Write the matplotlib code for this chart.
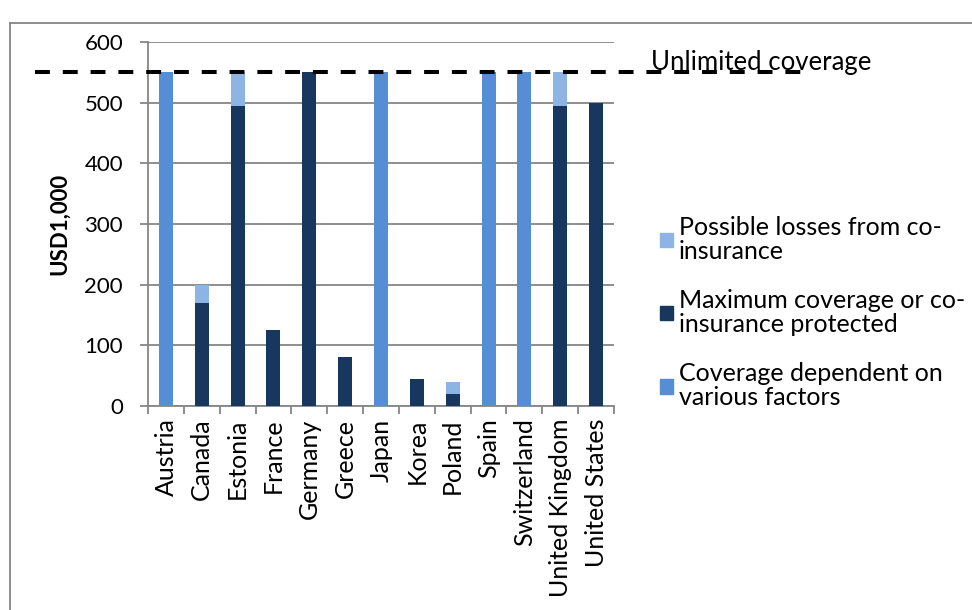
import numpy as np
import matplotlib as mpl
mpl.use('Agg')
import matplotlib.pyplot as plt
from matplotlib.transforms import blended_transform_factory, offset_copy
from matplotlib.lines import Line2D
from matplotlib.patches import Patch


countries = ['Austria', 'Canada', 'Estonia', 'France', 'Germany', 'Greece',
             'Japan', 'Korea', 'Poland', 'Spain', 'Switzerland',
             'United Kingdom', 'United States']
# USD 1,000
max_coverage = [0, 170, 495, 125, 550, 81, 0, 45, 20, 0, 0, 495, 500]
coinsurance_loss = [0, 30, 55, 0, 0, 0, 0, 0, 20, 0, 0, 55, 0]
dependent = [550, 0, 0, 0, 0, 0, 550, 0, 0, 550, 550, 0, 0]
unlimited = 550

c_light = '#8DB4E2'
c_dark = '#17375E'
c_mid = '#558ED5'
grey = '#868686'

plt.rcParams['font.family'] = ['Lato', 'DejaVu Sans']

fig = plt.figure(figsize=(9.72, 6.10), dpi=100)
ax = fig.add_axes([148/972, 1 - 406/610, 466/972, 364/610])

x = np.arange(len(countries))
w = 0.39
ax.bar(x, dependent, w, color=c_mid, zorder=3)
ax.bar(x, max_coverage, w, color=c_dark, zorder=3)
ax.bar(x, coinsurance_loss, w, bottom=max_coverage, color=c_light, zorder=3)

ax.set_xlim(-0.5, len(countries) - 0.5)
ax.set_ylim(0, 600)
ax.set_yticks(np.arange(0, 601, 100))
ax.yaxis.grid(True, color=grey, linewidth=1.3, zorder=0)
ax.set_axisbelow(True)
for s in ['top', 'right']:
    ax.spines[s].set_visible(False)
for s in ['left', 'bottom']:
    ax.spines[s].set_color(grey)
    ax.spines[s].set_linewidth(1.3)

ax.set_xticks(x)
ax.set_xticklabels(countries, rotation=90, fontsize=18)
ax.tick_params(axis='x', length=0, pad=9)
ax.set_xticks(np.arange(-0.5, len(countries), 1), minor=True)
ax.tick_params(axis='x', which='minor', length=6, width=1.3, color=grey)
ax.tick_params(axis='y', labelsize=16, length=6, width=1.3, color=grey, pad=12)
ax.set_ylabel('USD1,000', fontsize=16, fontweight='bold', labelpad=10)

# unlimited coverage line, spans past the plot area
trans = blended_transform_factory(fig.transFigure, ax.transData)
ln = Line2D([35/972, 805/972], [unlimited, unlimited], transform=trans,
            color='black', linewidth=2.9, clip_on=False, zorder=5)
ln.set_dashes((3.7, 3.2))
ln.set_dash_capstyle('butt')
fig.add_artist(ln)
fig.text(651/972, unlimited, 'Unlimited coverage',
         transform=offset_copy(trans, fig=fig, y=2, units='points'),
         fontsize=18.5, va='baseline', ha='left', zorder=6)

handles = [Patch(color=c_light), Patch(color=c_dark), Patch(color=c_mid)]
labels = ['Possible losses from co-\ninsurance',
          'Maximum coverage or co-\ninsurance protected',
          'Coverage dependent on\nvarious factors']
leg = ax.legend(handles, labels, loc='upper left',
                bbox_to_anchor=(650/972, 1 - 206/610),
                bbox_transform=fig.transFigure,
                frameon=False, fontsize=18, handlelength=0.5, handleheight=0.5,
                handletextpad=0.25, labelspacing=1.05, borderaxespad=0)
for t in leg.get_texts():
    t.set_linespacing(1.05)

# chart frame (top and left edges)
fig.add_artist(Line2D([10/972, 10/972], [0, 1 - 23/610], color=grey,
                      linewidth=1.3, transform=fig.transFigure))
fig.add_artist(Line2D([10/972, 1], [1 - 23/610, 1 - 23/610], color=grey,
                      linewidth=1.3, transform=fig.transFigure))

fig.savefig('out.png', dpi=100)
